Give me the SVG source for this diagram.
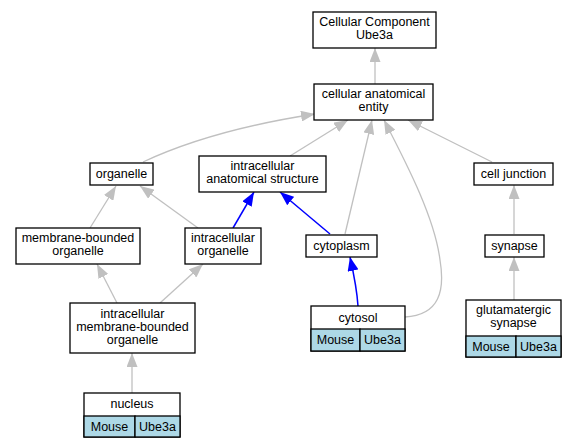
<svg xmlns="http://www.w3.org/2000/svg" width="577" height="448" viewBox="0 0 577 448">
<defs>
<marker id="ag" markerUnits="userSpaceOnUse" markerWidth="14" markerHeight="11" refX="14" refY="5.5" orient="auto"><path d="M0,0 L14,5.5 L0,11 z" fill="#c0c0c0"/></marker>
<marker id="ab" markerUnits="userSpaceOnUse" markerWidth="14" markerHeight="11" refX="14" refY="5.5" orient="auto"><path d="M0,0 L14,5.5 L0,11 z" fill="#0000ff"/></marker>
<style>
rect{fill:#fff;stroke:#000;stroke-width:1.3}
rect.c{fill:#add8e6}
text{font-family:"Liberation Sans",Arial,sans-serif;font-size:12.5px;text-anchor:middle;fill:#000}
.g{fill:none;stroke:#c0c0c0;stroke-width:1.3;marker-end:url(#ag)}
.b{fill:none;stroke:#0000ff;stroke-width:1.5;marker-end:url(#ab)}
</style>
</defs>
<rect x="0" y="0" width="577" height="448" style="fill:#fff;stroke:none"/>
<g id="connectors">
<path class="g" d="M375,84 L375,48"/>
<path class="g" d="M143,162 C190,140 250,124 315,114"/>
<path class="g" d="M290,156 L348,120"/>
<path class="g" d="M345,234 L372,120"/>
<path class="g" d="M405,317 C440,315 445,290 440,260 C435,220 410,170 384,120"/>
<path class="g" d="M492,162 L408,120"/>
<path class="g" d="M90,228 L116,186"/>
<path class="g" d="M198,228 L140,186"/>
<path class="b" d="M233,228 L254,192"/>
<path class="b" d="M330,234 L280,192"/>
<path class="b" d="M358,306 C357,290 354,275 350,257"/>
<path class="g" d="M117,303 L97,264"/>
<path class="g" d="M160,303 L203,264"/>
<path class="g" d="M132,393 L132,353"/>
<path class="g" d="M514,234 L514,185"/>
<path class="g" d="M514,300 L514,257"/>
</g>
<g id="cc"><rect x="313" y="12" width="123" height="36"/><text x="374.5" y="26">Cellular Component</text><text x="374.5" y="39">Ube3a</text></g>
<g id="cae"><rect x="314" y="84" width="119" height="36"/><text x="373.5" y="98">cellular anatomical</text><text x="373.5" y="111">entity</text></g>
<g id="organelle"><rect x="90" y="163" width="63" height="22"/><text x="121.5" y="178">organelle</text></g>
<g id="ias"><rect x="199" y="156" width="127" height="36"/><text x="262.5" y="170">intracellular</text><text x="262.5" y="183">anatomical structure</text></g>
<g id="celljunction"><rect x="474" y="163" width="79" height="22"/><text x="513.5" y="178">cell junction</text></g>
<g id="mbo"><rect x="16" y="228" width="124" height="36"/><text x="78" y="242">membrane-bounded</text><text x="78" y="255">organelle</text></g>
<g id="io"><rect x="185" y="228" width="76" height="36"/><text x="223" y="242">intracellular</text><text x="223" y="255">organelle</text></g>
<g id="cytoplasm"><rect x="306" y="235" width="71" height="22"/><text x="341.5" y="250">cytoplasm</text></g>
<g id="synapse"><rect x="485" y="235" width="59" height="22"/><text x="514.5" y="250">synapse</text></g>
<g id="imbo"><rect x="70" y="303" width="125" height="50"/><text x="132.5" y="317.5">intracellular</text><text x="132.5" y="330.5">membrane-bounded</text><text x="132.5" y="343.5">organelle</text></g>
<g id="cytosol"><rect x="311" y="306" width="94" height="45"/><text x="358" y="322">cytosol</text><rect class="c" x="311" y="329" width="49" height="22"/><rect class="c" x="360" y="329" width="45" height="22"/><text x="335.5" y="344">Mouse</text><text x="382.5" y="344">Ube3a</text></g>
<g id="glutamatergic"><rect x="466" y="300" width="95" height="57"/><text x="513.5" y="314">glutamatergic</text><text x="513.5" y="327">synapse</text><rect class="c" x="466" y="336" width="50" height="21"/><rect class="c" x="516" y="336" width="45" height="21"/><text x="491" y="350.5">Mouse</text><text x="538.5" y="350.5">Ube3a</text></g>
<g id="nucleus"><rect x="84" y="393" width="96" height="44"/><text x="132" y="408">nucleus</text><rect class="c" x="84" y="416" width="51" height="21"/><rect class="c" x="135" y="416" width="45" height="21"/><text x="109.5" y="430.5">Mouse</text><text x="157.5" y="430.5">Ube3a</text></g>
</svg>
